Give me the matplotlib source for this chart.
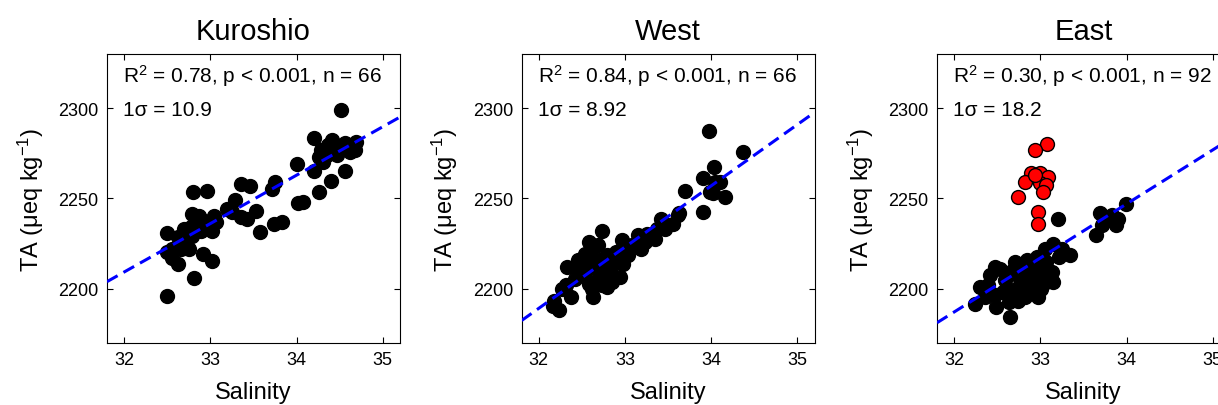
import numpy as np
import matplotlib
matplotlib.use('Agg')
import matplotlib.pyplot as plt

plt.rcParams['font.family'] = ['Liberation Sans', 'DejaVu Sans']
plt.rcParams['mathtext.fontset'] = 'custom'
plt.rcParams['mathtext.rm'] = 'Liberation Sans'
plt.rcParams['mathtext.it'] = 'Liberation Sans:italic'

titles = ['Kuroshio', 'West', 'East']
stats_r2 = ['R$^2$ = 0.78, p < 0.001, n = 66',
            'R$^2$ = 0.84, p < 0.001, n = 66',
            'R$^2$ = 0.30, p < 0.001, n = 92']
stats_sigma = ['1σ = 10.9', '1σ = 8.92', '1σ = 18.2']

# regression lines (TA = a + b * S)
fit_a = [1351.7, 1104.4, 1230.4]
fit_b = [26.8, 33.9, 29.9]

# Kuroshio
kuro_s = [34.51, 34.20, 34.41, 34.56, 34.69, 34.28, 34.43, 34.58, 34.68, 34.26,
          34.35, 34.47, 34.00, 34.20, 34.56, 34.40, 34.26, 34.02, 34.08, 33.75,
          33.72, 33.35, 33.46, 33.29, 33.53, 33.35, 33.43, 33.19, 33.04, 33.74,
          33.83, 33.58, 33.02, 32.96, 32.80, 32.79, 32.87, 32.93, 32.69, 32.77,
          32.50, 32.62, 32.85, 32.73, 32.75, 32.91, 33.02, 32.50, 32.62, 32.81,
          32.50, 32.69, 32.56, 32.79, 32.56, 34.37, 34.49, 34.62, 34.31, 33.06,
          32.66, 32.89, 33.25, 34.66, 34.28]
kuro_ta = [2299.1, 2283.3, 2282.3, 2280.9, 2281.0, 2276.8, 2277.7, 2277.7, 2276.8, 2273.0,
           2274.0, 2274.3, 2269.3, 2265.1, 2265.1, 2259.7, 2253.5, 2247.4, 2248.0, 2259.1,
           2255.4, 2258.2, 2256.9, 2248.9, 2242.8, 2239.6, 2238.7, 2243.9, 2240.5, 2235.9,
           2236.8, 2231.2, 2232.2, 2254.1, 2253.5, 2241.4, 2240.5, 2237.7, 2233.1, 2234.0,
           2230.9, 2228.4, 2234.9, 2229.4, 2222.3, 2219.1, 2215.4, 2220.1, 2213.6, 2206.1,
           2195.9, 2226.6, 2221.9, 2229.4, 2217.3, 2279.6, 2278.6, 2275.8, 2270.3, 2236.8,
           2221.9, 2232.2, 2242.4, 2278.6, 2274.0]

# West
west_s = [33.98, 34.37, 34.03, 33.90, 34.10, 34.02, 34.16, 33.70, 33.90, 33.63,
          33.56, 33.42, 33.50, 33.37, 33.25, 33.15, 33.35, 33.19, 33.08, 32.96,
          32.73, 32.58, 32.69, 32.54, 32.90, 32.75, 32.98, 32.33, 32.42, 32.67,
          32.85, 32.94, 32.79, 32.31, 32.58, 32.73, 32.37, 32.63, 32.18, 32.23,
          32.17, 32.62, 32.83, 32.69, 32.52, 32.88, 33.04, 32.46, 32.62, 32.77,
          33.62, 34.04, 33.99, 33.46, 33.31, 33.23, 32.42, 32.27, 33.00, 32.85,
          32.52, 32.79, 32.63]
west_ta = [2287.6, 2275.7, 2267.4, 2261.5, 2259.3, 2252.8, 2250.9, 2254.3, 2242.4, 2241.7,
           2236.1, 2238.5, 2235.2, 2233.3, 2230.6, 2229.6, 2227.8, 2222.2, 2224.1, 2226.9,
           2231.9, 2225.9, 2224.1, 2219.4, 2220.4, 2216.7, 2213.9, 2212.0, 2212.0, 2211.1,
           2213.0, 2206.5, 2200.9, 2202.2, 2202.8, 2201.9, 2195.4, 2195.4, 2193.5, 2188.0,
           2190.7, 2216.7, 2208.3, 2205.6, 2207.4, 2216.7, 2218.5, 2215.7, 2200.0, 2211.1,
           2240.7, 2259.3, 2253.7, 2233.3, 2229.6, 2225.9, 2205.6, 2200.0, 2222.2, 2203.7,
           2212.0, 2218.5, 2222.2]

# East (black)
east_s = [33.99, 33.69, 33.83, 33.90, 33.88, 33.71, 33.64, 33.77, 33.20, 33.05,
          33.15, 33.25, 33.34, 32.84, 32.47, 32.53, 32.68, 32.80, 32.97, 33.01,
          32.76, 32.59, 32.30, 32.39, 32.86, 33.01, 32.67, 32.97, 32.82, 32.63,
          32.47, 32.24, 32.49, 32.65, 33.15, 33.13, 33.07, 32.92, 32.72, 32.41,
          32.56, 32.88, 33.07, 32.96, 33.21, 32.36, 32.74, 32.90, 32.61, 32.70]
east_ta = [2247.2, 2241.7, 2240.7, 2238.9, 2235.2, 2235.2, 2229.6, 2238.0, 2238.5, 2222.2,
           2225.0, 2222.2, 2218.5, 2215.7, 2212.0, 2211.1, 2210.2, 2211.1, 2212.0, 2207.4,
           2205.6, 2204.6, 2200.9, 2201.9, 2201.9, 2200.0, 2198.1, 2195.4, 2195.4, 2192.6,
           2196.3, 2191.7, 2189.8, 2184.3, 2203.7, 2209.3, 2214.8, 2205.6, 2200.0, 2207.4,
           2198.1, 2209.3, 2203.7, 2217.6, 2217.6, 2195.4, 2193.5, 2198.1, 2207.4, 2214.8]

# East (red outliers)
east_red_s = [33.08, 32.94, 32.89, 32.99, 33.09, 32.82, 32.99, 33.06, 33.03, 32.74,
              32.97, 32.97, 32.94]
east_red_ta = [2280.2, 2276.9, 2263.9, 2263.9, 2262.0, 2259.3, 2258.3, 2257.4, 2253.7, 2250.9,
               2242.6, 2236.1, 2263.0]

xs = [kuro_s, west_s, east_s]
ys = [kuro_ta, west_ta, east_ta]

fig = plt.figure(figsize=(12.18, 4.06), dpi=100)
lefts = [0.0878, 0.4282, 0.7693]

for i in range(3):
    ax = fig.add_axes([lefts[i], 0.1527, 0.2406, 0.712])
    ax.plot(xs[i], ys[i], 'o', color='k', markersize=10, markeredgecolor='k', zorder=2)
    if i == 2:
        ax.plot(east_red_s, east_red_ta, 'o', markerfacecolor='r', markeredgecolor='k',
                markersize=10, markeredgewidth=1, zorder=3)
    xl = np.array([31.8, 35.2])
    ax.plot(xl, fit_a[i] + fit_b[i] * xl, color='b', lw=2.2, linestyle=(0, (4, 2.2)), zorder=4)
    ax.set_xlim(31.8, 35.2)
    ax.set_ylim(2170, 2330)
    ax.set_xticks([32, 33, 34, 35])
    ax.set_yticks([2200, 2250, 2300])
    ax.tick_params(direction='in', top=True, right=True, labelsize=13, length=4, pad=6)
    ax.set_title(titles[i], fontsize=21, pad=11)
    ax.set_xlabel('Salinity', fontsize=17, labelpad=9)
    ax.set_ylabel('TA (μeq kg$^{-1}$)', fontsize=17, labelpad=9)
    ax.text(0.055, 0.905, stats_r2[i], transform=ax.transAxes, fontsize=15, va='baseline')
    ax.text(0.055, 0.79, stats_sigma[i], transform=ax.transAxes, fontsize=15, va='baseline')

fig.savefig('out.png', dpi=100)
